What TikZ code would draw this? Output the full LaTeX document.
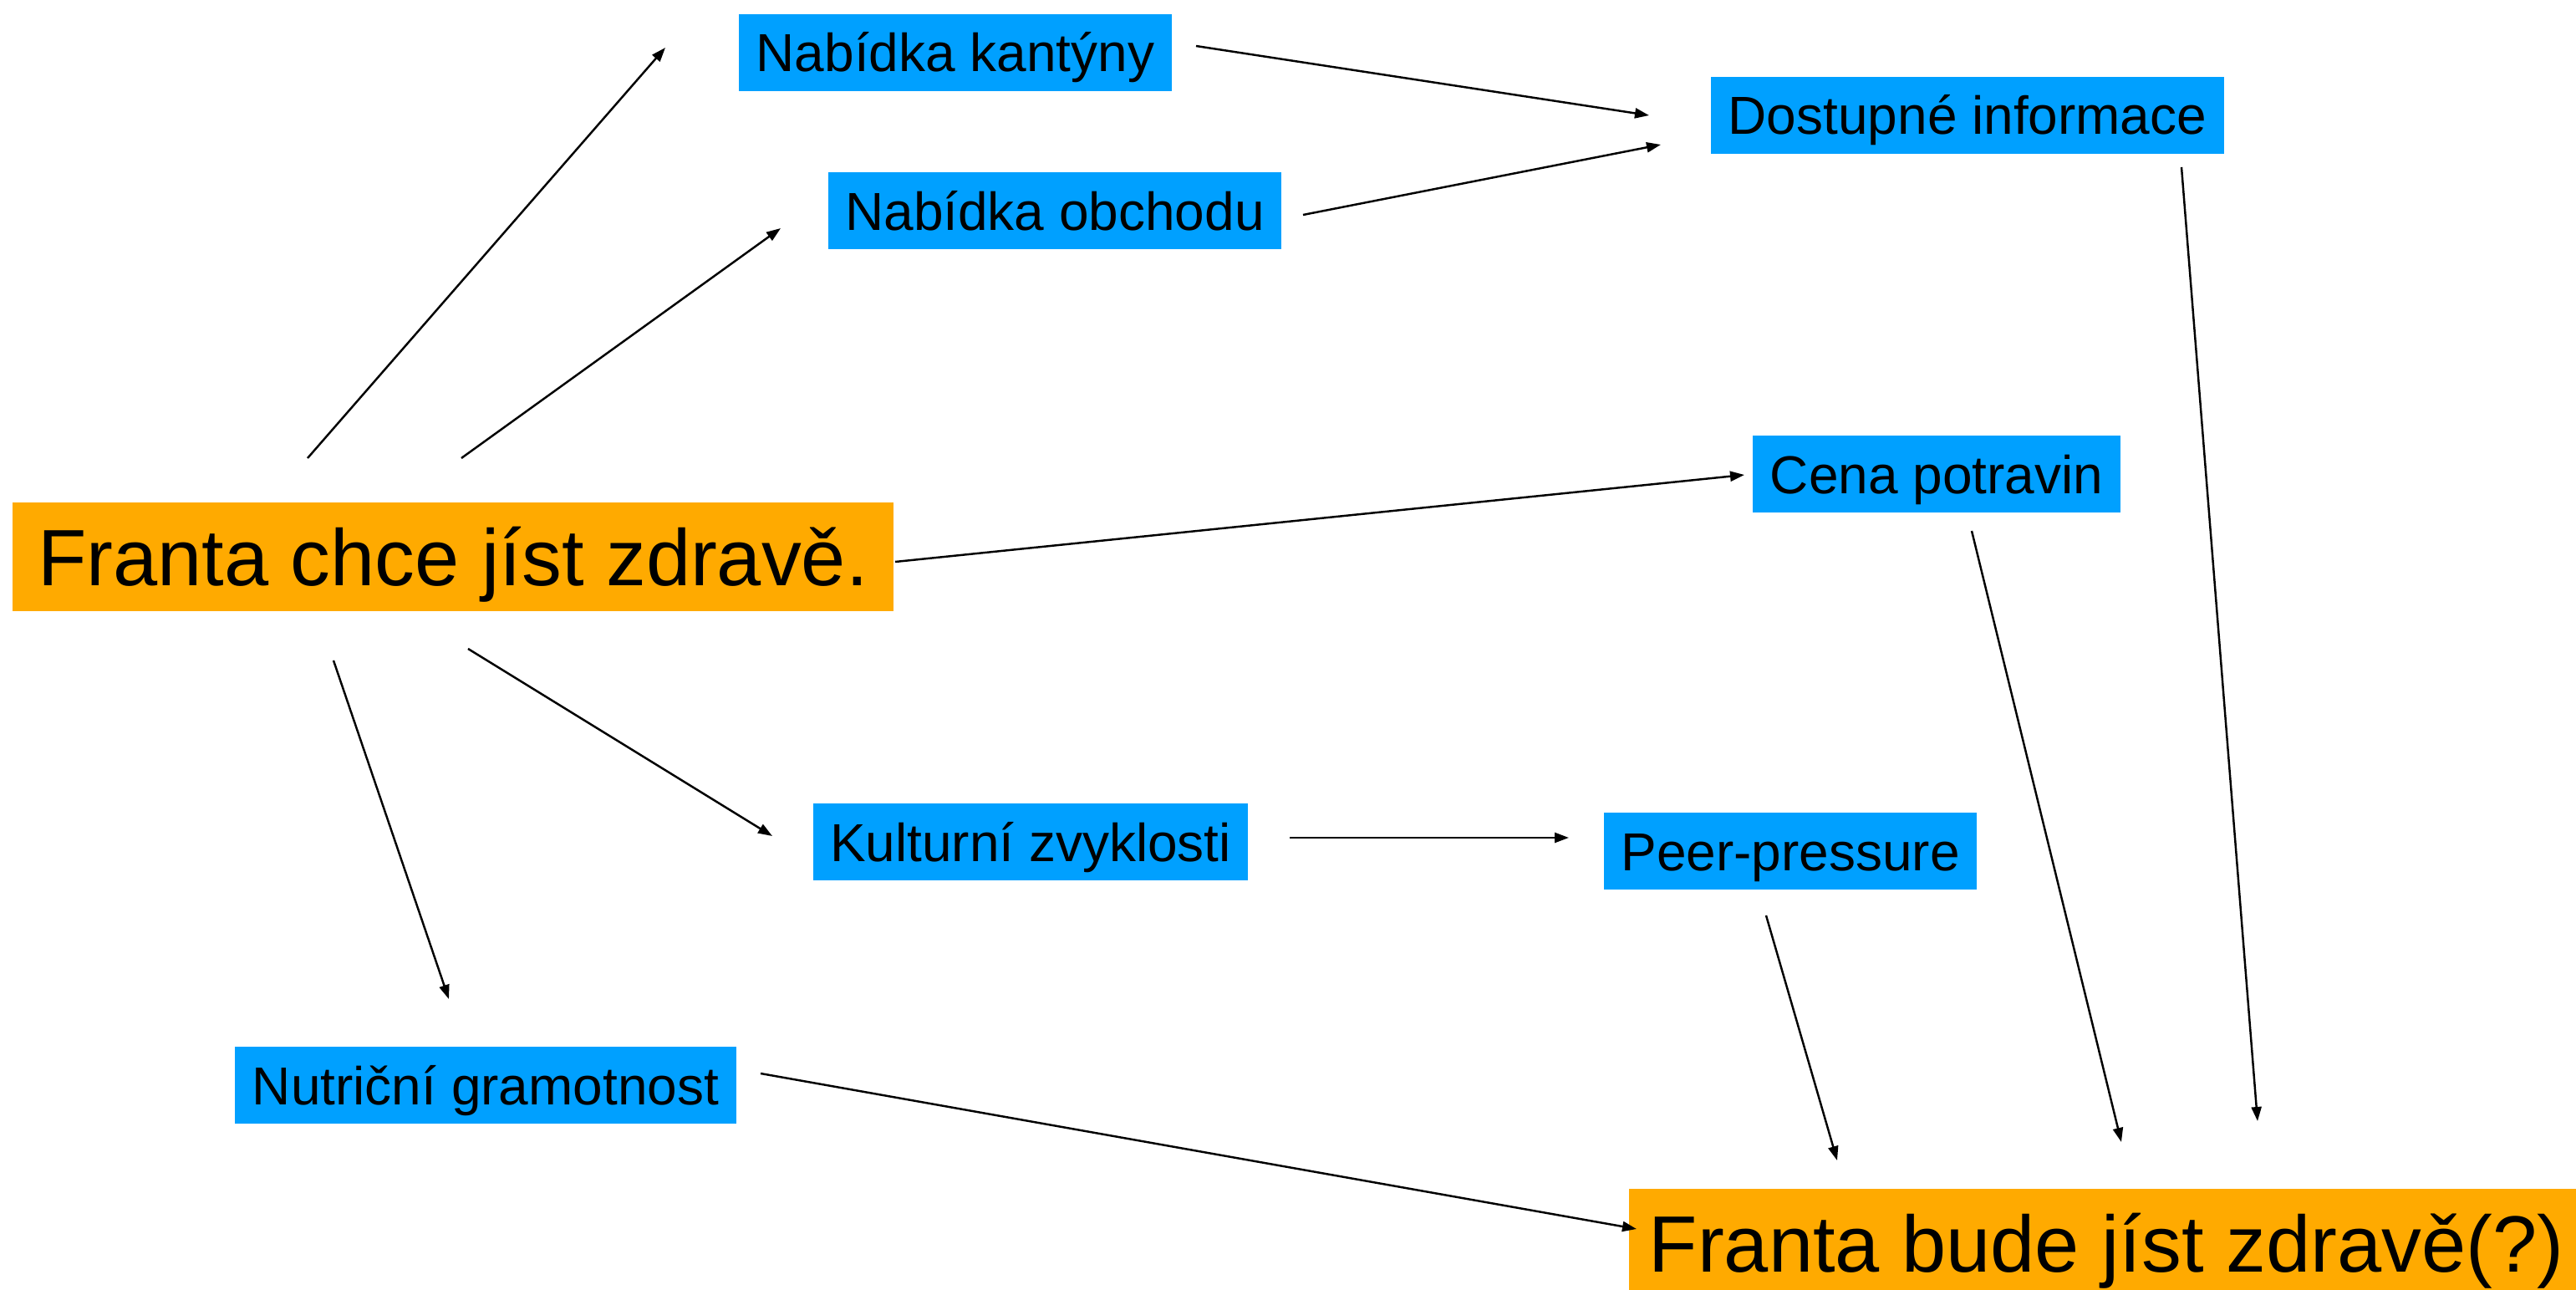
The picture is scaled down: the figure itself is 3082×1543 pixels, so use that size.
\documentclass[tikz,border=0pt]{standalone}
\usepackage{fontspec}
\setmainfont{Liberation Sans}
\usetikzlibrary{arrows.meta}
\definecolor{frantaorange}{HTML}{FFAA00}
\definecolor{factorblue}{HTML}{00A0FF}

\begin{document}
\begin{tikzpicture}[x=0.1mm,y=-0.1mm,
  factor node/.style={fill=factorblue,inner xsep=2.05mm,inner ysep=2.3mm,text height=4.6mm,text depth=0mm,font=\fontsize{18.2}{21}\selectfont},
  goal node/.style={fill=frantaorange,inner xsep=3mm,inner ysep=3.05mm,text height=6.9mm,text depth=0mm,font=\fontsize{27.2}{31}\selectfont},
  arr/.style={-{Triangle[length=1.7mm,width=1.2mm]},line width=0.7pt}]
  \useasboundingbox (0,0) rectangle (3082,1543);

  \node[goal node] (fch) at (542,666) {Franta chce jíst zdravě.};
  \node[factor node] (nk) at (1143,63) {Nabídka kantýny};
  \node[factor node] (no) at (1262,252) {Nabídka obchodu};
  \node[factor node] (di) at (2354,138) {Dostupné informace};
  \node[factor node] (cp) at (2317,567) {Cena potravin};
  \node[factor node] (kz) at (1233,1007) {Kulturní zvyklosti};
  \node[factor node] (pp) at (2142,1018) {Peer-pressure};
  \node[factor node] (ng) at (581,1298) {Nutriční gramotnost};
  \node[goal node,anchor=north west,inner xsep=2.4mm] (fb) at (1948,1421) {Franta bude jíst zdravě(?)};

  \draw[arr] ([shift={(-174,-118)}]fch.center) -- ([shift={(-347,-6)}]nk.center);
  \draw[arr] ([shift={(10,-118)}]fch.center) -- ([shift={(-328,21)}]no.center);
  \draw[arr] ([shift={(529,6)}]fch.center) -- ([shift={(-230,1)}]cp.center);
  \draw[arr] ([shift={(18,110)}]fch.center) -- ([shift={(-309,-7)}]kz.center);
  \draw[arr] ([shift={(-143,124)}]fch.center) -- ([shift={(-44,-103)}]ng.center);

  \draw[arr] ([shift={(288,-8)}]nk.center) -- ([shift={(-381,0)}]di.center);
  \draw[arr] ([shift={(297,5)}]no.center) -- ([shift={(-367,35)}]di.center);
  \draw[arr] ([shift={(310,-5)}]kz.center) -- ([shift={(-265,-16)}]pp.center);

  \draw[arr] ([shift={(256,62)}]di.center) -- ([shift={(753,-80)}]fb.north west);
  \draw[arr] ([shift={(42,68)}]cp.center) -- ([shift={(590,-55)}]fb.north west);
  \draw[arr] ([shift={(-29,77)}]pp.center) -- ([shift={(250,-33)}]fb.north west);
  \draw[arr] ([shift={(329,-14)}]ng.center) -- ([shift={(10,49)}]fb.north west);
\end{tikzpicture}
\end{document}
